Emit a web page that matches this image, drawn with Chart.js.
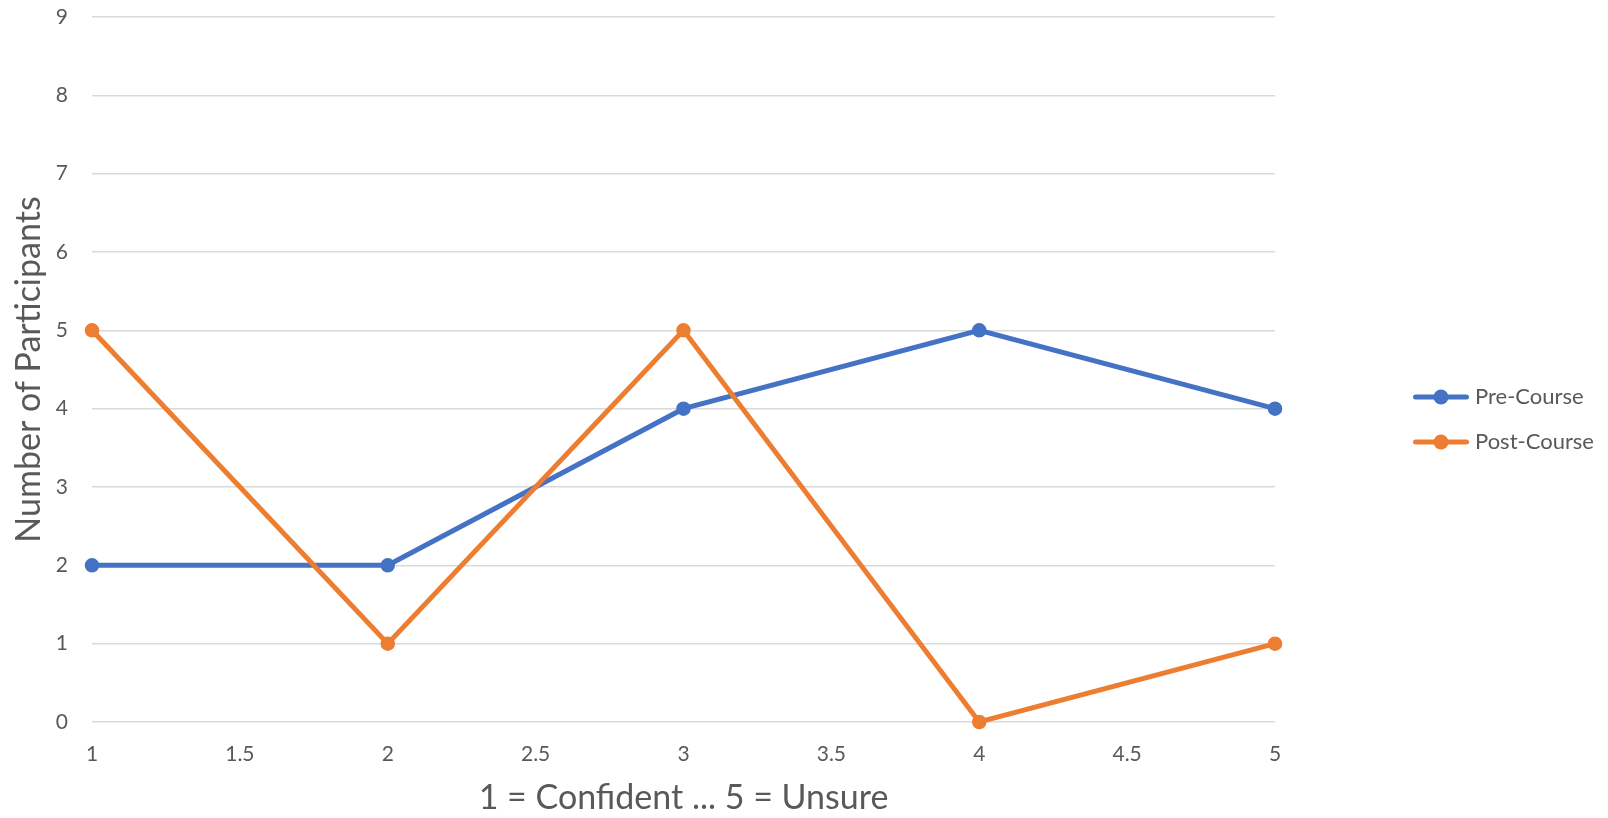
<!DOCTYPE html>
<html>
<head>
<meta charset="utf-8">
<script src="https://cdn.jsdelivr.net/npm/chart.js@4.4.1/dist/chart.umd.min.js"></script>
<style>
  html, body { margin: 0; padding: 0; background: #ffffff; }
  #wrap { width: 1608px; height: 818px; }
</style>
</head>
<body>
<div id="wrap"><canvas id="c" width="1608" height="818"></canvas></div>
<script>
// Rating scale (1 = Confident ... 5 = Unsure)
const ratings = [1, 2, 3, 4, 5];
const preCourse = [2, 2, 4, 5, 4];
const postCourse = [5, 1, 5, 0, 1];
const seriesNames = ['Pre-Course', 'Post-Course'];
const seriesColors = ['#4472C4', '#ED7D31'];
const xTitle = '1 = Confident ... 5 = Unsure';
const yTitle = 'Number of Participants';

const TEXT = '#595959';
const FONT = 'Lato, "Open Sans", sans-serif';

const toPoints = (vals) => ratings.map((r, i) => ({ x: r, y: vals[i] }));

// Legend swatch: short line with a dot in the middle
function swatch(color) {
  const c = document.createElement('canvas');
  c.width = 56; c.height = 18;
  const g = c.getContext('2d');
  g.strokeStyle = color; g.lineWidth = 5; g.lineCap = 'round';
  g.beginPath(); g.moveTo(2.5, 9); g.lineTo(53.5, 9); g.stroke();
  g.fillStyle = color;
  g.beginPath(); g.arc(28, 9, 7.5, 0, Math.PI * 2); g.fill();
  return c;
}
const swatches = seriesColors.map(swatch);

const legendPlace = {
  id: 'legendPlace',
  beforeLayout(chart) {
    const lg = chart.legend;
    if (lg && !lg._fixedFit) {
      const fit = lg.fit.bind(lg);
      lg.fit = function () { fit(); if (!this.isHorizontal()) this.width = 333; };
      lg._fixedFit = true;
    }
  },
  afterLayout(chart) {
    const lg = chart.legend;
    if (!lg) return;
    const dx = 120, dy = 2;
    lg.left += dx; lg.right += dx;
    lg.top += dy; lg.bottom += dy;
  }
};

function lineSet(i, vals, order) {
  return {
    label: seriesNames[i],
    data: toPoints(vals),
    borderColor: seriesColors[i],
    backgroundColor: seriesColors[i],
    borderWidth: 5,
    pointRadius: 6.5,
    pointBorderWidth: 1.5,
    pointHoverRadius: 6.5,
    tension: 0,
    clip: false,
    order: order
  };
}

new Chart(document.getElementById('c'), {
  type: 'line',
  data: {
    datasets: [lineSet(0, preCourse, 1), lineSet(1, postCourse, 0)]
  },
  plugins: [legendPlace],
  options: {
    responsive: false,
    animation: false,
    layout: { padding: { top: 17, left: 0, right: 0, bottom: 0 } },
    plugins: {
      tooltip: { enabled: false },
      legend: {
        position: 'right',
        labels: {
          usePointStyle: true,
          pointStyleWidth: 46,
          padding: 23,
          color: TEXT,
          font: { family: FONT, size: 22 },
          sort: (a, b) => a.datasetIndex - b.datasetIndex,
          generateLabels(chart) {
            const items = Chart.defaults.plugins.legend.labels.generateLabels(chart);
            items.forEach(it => { it.pointStyle = swatches[it.datasetIndex]; });
            return items;
          }
        }
      }
    },
    scales: {
      x: {
        type: 'linear',
        min: 1, max: 5,
        afterFit(s) { s.height = 96; },
        grid: { display: false, drawTicks: false },
        border: { display: false },
        ticks: {
          stepSize: 0.5,
          padding: 20,
          color: TEXT,
          font: { family: FONT, size: 21 },
          maxRotation: 0,
          callback: (v) => String(v)
        },
        title: {
          display: true,
          text: xTitle,
          color: TEXT,
          font: { family: FONT, size: 34 },
          padding: { top: 0, bottom: 0 }
        }
      },
      y: {
        type: 'linear',
        min: 0, max: 9,
        afterFit(s) { s.width = 92; s.paddingTop = 0; s.paddingBottom = 0; },
        grid: { color: '#d9d9d9', lineWidth: 1.5, drawTicks: false },
        border: { display: false },
        ticks: {
          stepSize: 1,
          padding: 24,
          color: TEXT,
          font: { family: FONT, size: 21 },
          callback: (v) => String(v)
        },
        title: {
          display: true,
          text: yTitle,
          color: TEXT,
          font: { family: FONT, size: 34 },
          padding: { top: 9, bottom: 0 }
        }
      }
    }
  }
});
</script>
</body>
</html>
